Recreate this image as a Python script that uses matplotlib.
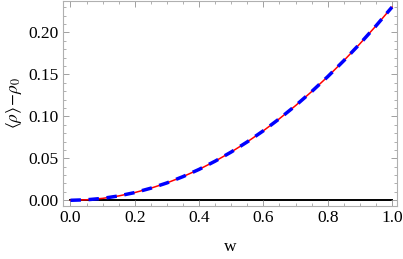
import matplotlib
matplotlib.use("Agg")
import matplotlib.pyplot as plt
from matplotlib.ticker import MultipleLocator

w = [0.0, 0.05, 0.1, 0.15, 0.2, 0.25, 0.3, 0.35, 0.4, 0.45, 0.5,
     0.55, 0.6, 0.65, 0.7, 0.75, 0.8, 0.85, 0.9, 0.95, 1.0]
rho_exact = [0.0, 0.0006, 0.0023, 0.0052, 0.0092, 0.0144, 0.0207, 0.0282,
             0.0368, 0.0466, 0.0575, 0.0696, 0.0828, 0.0972, 0.1127, 0.1294,
             0.1472, 0.1662, 0.1863, 0.2076, 0.2300]
rho_approx = list(rho_exact)
zero_x = [0.0, 1.0]
zero_y = [0.0, 0.0]

xticks = [0.0, 0.2, 0.4, 0.6, 0.8, 1.0]
xticklabels = ["0.0", "0.2", "0.4", "0.6", "0.8", "1.0"]
yticks = [0.0, 0.05, 0.10, 0.15, 0.20]
yticklabels = ["0.00", "0.05", "0.10", "0.15", "0.20"]

plt.rcParams['mathtext.fontset'] = 'stix'
plt.rcParams['font.family'] = ['Liberation Serif', 'DejaVu Serif']

fig = plt.figure(figsize=(4.03, 2.59), dpi=100)
ax = fig.add_axes([63/403, 53/259, 334/403, 205/259])

ax.plot(zero_x, zero_y, color='black', lw=1.4, zorder=1)
ax.plot(w, rho_exact, color=(1, 0, 0), lw=1.1, zorder=2)
ax.plot(w, rho_approx, color=(0, 0, 1), lw=2.5, dashes=(3.0, 2.2), zorder=3)

ax.set_xlim(-0.0233, 1.0156)
ax.set_ylim(-0.0068, 0.2373)

ax.set_xticks(xticks)
ax.set_xticklabels(xticklabels)
ax.set_yticks(yticks)
ax.set_yticklabels(yticklabels)
ax.xaxis.set_minor_locator(MultipleLocator(0.05))
ax.yaxis.set_minor_locator(MultipleLocator(0.01))

gray = '#b0b0b0'
for s in ax.spines.values():
    s.set_color(gray)
    s.set_linewidth(0.8)
ax.tick_params(which='both', direction='in', top=True, right=True,
               color='#909090', labelsize=12.5, labelcolor='black')
ax.tick_params(which='major', length=4, width=0.6, pad=3)
ax.tick_params(which='minor', length=2, width=0.5)

ax.set_xlabel('w', fontsize=12.5, labelpad=9)
ax.set_ylabel(r'$\langle\rho\rangle\!-\!\rho_0$', fontsize=12.5, labelpad=3)

fig.savefig('out.png', dpi=100)
